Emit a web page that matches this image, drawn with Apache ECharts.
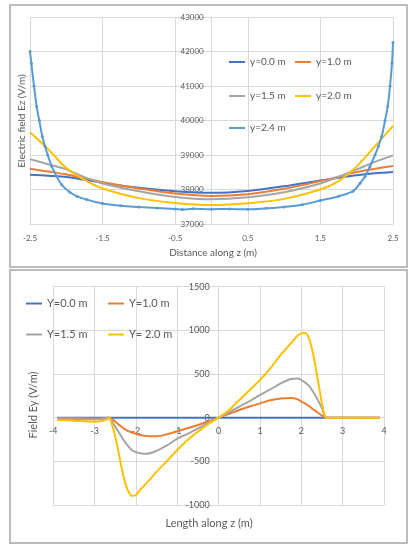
<!DOCTYPE html>
<html>
<head>
<meta charset="utf-8">
<script src="https://cdn.jsdelivr.net/npm/echarts@6/dist/echarts.min.js"></script>
<style>
html,body{margin:0;padding:0;background:#fff;}
#c{width:415px;height:550px;}
</style>
</head>
<body>
<div id="c"></div>
<script>
// ---------- Top chart: Electric field Ez ----------
const ezNames = ['y=0.0 m', 'y=1.0 m', 'y=1.5 m', 'y=2.0 m', 'y=2.4 m'];
const zEz = [-2.5, -2.25, -2.0, -1.75, -1.5, -1.0, -0.5, 0, 0.5, 1.0, 1.5, 1.75, 2.0, 2.25, 2.5];
const ezY00 = [38430, 38400, 38365, 38285, 38195, 38050, 37950, 37905, 37960, 38095, 38260, 38340, 38415, 38470, 38510];
const ezY10 = [38600, 38520, 38437, 38330, 38213, 38029, 37883, 37815, 37864, 38019, 38243, 38370, 38505, 38600, 38680];
const ezY15 = [38880, 38730, 38583, 38359, 38175, 37951, 37786, 37720, 37777, 37922, 38175, 38370, 38583, 38800, 38990];
const ezY20 = [39660, 39170, 38620, 38280, 38030, 37750, 37610, 37550, 37602, 37728, 38000, 38243, 38670, 39250, 39845];
const zEz24 = [-2.5, -2.482, -2.445, -2.408, -2.372, -2.33, -2.293, -2.256, -2.2, -2.132, -2.063, -1.95, -1.85, -1.72, -1.5, -1.25, -1.0, -0.75, -0.5, -0.4, -0.25, 0, 0.25, 0.5, 0.75, 1.0, 1.25, 1.5, 1.75, 1.95, 2.045, 2.115, 2.183, 2.252, 2.298, 2.344, 2.39, 2.427, 2.459, 2.486, 2.5];
const ezY24 = [42000, 41662, 41000, 40406, 40000, 39536, 39246, 39000, 38667, 38377, 38135, 37922, 37800, 37709, 37592, 37530, 37495, 37465, 37437, 37420, 37440, 37430, 37435, 37425, 37455, 37495, 37560, 37680, 37806, 37950, 38180, 38377, 38667, 39000, 39246, 39536, 40000, 40406, 41000, 41662, 42261];

// ---------- Bottom chart: Field Ey ----------
const eyNames = ['Y=0.0 m', 'Y=1.0 m', 'Y=1.5 m', 'Y= 2.0 m'];
const zEy = [-3.9, -3.5, -3.0, -2.8, -2.7, -2.65, -2.6, -2.5, -2.4, -2.3, -2.2, -2.1, -2.0, -1.9, -1.75, -1.5, -1.25, -1.0, -0.75, -0.5, -0.25, 0, 0.25, 0.5, 0.75, 1.0, 1.25, 1.5, 1.75, 1.9, 2.0, 2.1, 2.2, 2.3, 2.4, 2.5, 2.6, 2.7, 3.0, 3.5, 3.9];
const eyY00 = [0, 0, 0, 0, 0, 0, 0, 0, 0, 0, 0, 0, 0, 0, 0, 0, 0, 0, 0, 0, 0, 0, 0, 0, 0, 0, 0, 0, 0, 0, 0, 0, 0, 0, 0, 0, 0, 0, 0, 0, 0];
const eyY10 = [-5, -5, -8, -6, -3, 0, -10, -46, -85, -122, -150, -170, -185, -198, -210, -212, -190, -155, -120, -84, -42, 0, 45, 88, 128, 164, 200, 221, 226, 212, 185, 160, 128, 92, 57, 25, 0, 0, 0, 0, 0];
const eyY15 = [-15, -18, -20, -15, -7, 0, -30, -103, -180, -256, -320, -370, -395, -408, -414, -380, -318, -240, -185, -122, -60, 0, 62, 126, 190, 260, 324, 393, 443, 448, 431, 400, 355, 285, 202, 107, 0, 0, 0, 0, 0];
const eyY20 = [-27, -34, -46, -34, -19, 0, -46, -218, -447, -676, -828, -895, -885, -828, -752, -618, -496, -370, -256, -160, -73, 0, 88, 202, 317, 431, 565, 718, 851, 935, 965, 970, 889, 698, 431, 164, 0, 0, 0, 0, 0];

const colors = ['#4472C4', '#ED7D31', '#A5A5A5', '#FFC000', '#5B9BD5'];
const FONT = 'Lato, "Open Sans", sans-serif';
const TXT = '#595959';
const GRID = '#d9d9d9';

function pairs(xs, ys) { return xs.map((x, i) => [x, ys[i]]); }
function plain(v) { return String(v); }

const chart = echarts.init(document.getElementById('c'), null, { renderer: 'canvas' });

function lg(name, left, top, size) {
  return {
    data: [name], left: left, top: top, icon: 'rect',
    itemWidth: 16, itemHeight: 2, padding: 0,
    textStyle: { color: TXT, fontSize: size, fontFamily: FONT }
  };
}

const topSeriesY = [ezY00, ezY10, ezY15, ezY20];
const botSeriesY = [eyY00, eyY10, eyY15, eyY20];

const series = [];
topSeriesY.forEach((ys, i) => {
  series.push({
    name: ezNames[i], type: 'line', xAxisIndex: 0, yAxisIndex: 0,
    data: pairs(zEz, ys), smooth: 0.35, showSymbol: false,
    lineStyle: { width: 2, color: colors[i] }, itemStyle: { color: colors[i] }
  });
});
series.push({
  name: ezNames[4], type: 'line', xAxisIndex: 0, yAxisIndex: 0,
  data: pairs(zEz24, ezY24), smooth: 0.35, showSymbol: true, symbol: 'circle', symbolSize: 3,
  lineStyle: { width: 2, color: colors[4] }, itemStyle: { color: colors[4] }
});
botSeriesY.forEach((ys, i) => {
  series.push({
    name: eyNames[i], type: 'line', xAxisIndex: 1, yAxisIndex: 1,
    data: pairs(zEy, ys), smooth: 0.3, showSymbol: false,
    lineStyle: { width: 2, color: colors[i] }, itemStyle: { color: colors[i] }
  });
});

const option = {
  animation: false,
  backgroundColor: '#fff',
  grid: [
    { left: 30, right: 22, top: 17, bottom: 326, containLabel: false },
    { left: 53.3, right: 31, top: 286.7, bottom: 45, containLabel: false }
  ],
  xAxis: [
    {
      gridIndex: 0, type: 'value', min: -2.5, max: 2.5, interval: 1,
      axisLine: { show: true, onZero: false, lineStyle: { color: GRID } }, axisTick: { show: false },
      splitLine: { show: true, lineStyle: { color: GRID } },
      axisLabel: { color: TXT, fontSize: 8, fontFamily: FONT, margin: 10, formatter: plain }
    },
    {
      gridIndex: 1, type: 'value', min: -4, max: 4, interval: 1,
      position: 'bottom', offset: -87.3,
      axisLine: { show: true, onZero: false, lineStyle: { color: GRID } }, axisTick: { show: false },
      splitLine: { show: true, lineStyle: { color: GRID } },
      axisLabel: { color: TXT, fontSize: 9, fontFamily: FONT, margin: 9, formatter: plain }
    }
  ],
  yAxis: [
    {
      gridIndex: 0, type: 'value', min: 37000, max: 43000, interval: 1000,
      position: 'left', offset: -181.7,
      axisLine: { show: true, onZero: false, lineStyle: { color: GRID } }, axisTick: { show: false },
      splitLine: { show: true, lineStyle: { color: GRID } },
      axisLabel: { color: TXT, fontSize: 8, fontFamily: FONT, margin: 8, formatter: plain }
    },
    {
      gridIndex: 1, type: 'value', min: -1000, max: 1500, interval: 500,
      position: 'left', offset: -165.3,
      axisLine: { show: true, onZero: false, lineStyle: { color: GRID } }, axisTick: { show: false },
      splitLine: { show: true, lineStyle: { color: GRID } },
      axisLabel: { color: TXT, fontSize: 9, fontFamily: FONT, margin: 9, formatter: plain }
    }
  ],
  legend: [
    lg(ezNames[0], 229, 57, 10), lg(ezNames[1], 295, 57, 10),
    lg(ezNames[2], 229, 91, 10), lg(ezNames[3], 295, 91, 10),
    lg(ezNames[4], 229, 123, 10),
    lg(eyNames[0], 26, 298, 11), lg(eyNames[1], 108, 298, 11),
    lg(eyNames[2], 26, 329, 11), lg(eyNames[3], 108, 329, 11)
  ],
  graphic: [
    { type: 'rect', shape: { x: 10, y: 5, width: 397, height: 262 }, style: { fill: 'none', stroke: '#a6a6a6', lineWidth: 1.5 }, z: 100 },
    { type: 'rect', shape: { x: 10, y: 270, width: 397, height: 273 }, style: { fill: 'none', stroke: '#a6a6a6', lineWidth: 1.5 }, z: 100 },
    { type: 'text', x: 22, y: 121, rotation: Math.PI / 2,
      style: { text: 'Electric field Ez (V/m)', fill: TXT, font: '10px ' + FONT, textAlign: 'center', textVerticalAlign: 'middle' } },
    { type: 'text', x: 213, y: 253,
      style: { text: 'Distance along z (m)', fill: TXT, font: '10px ' + FONT, textAlign: 'center', textVerticalAlign: 'middle' } },
    { type: 'text', x: 33, y: 405, rotation: Math.PI / 2,
      style: { text: 'Field Ey (V/m)', fill: TXT, font: '11px ' + FONT, textAlign: 'center', textVerticalAlign: 'middle' } },
    { type: 'text', x: 209, y: 523,
      style: { text: 'Length along z (m)', fill: TXT, font: '11px ' + FONT, textAlign: 'center', textVerticalAlign: 'middle' } }
  ],
  series: series
};
chart.setOption(option);
</script>
</body>
</html>
